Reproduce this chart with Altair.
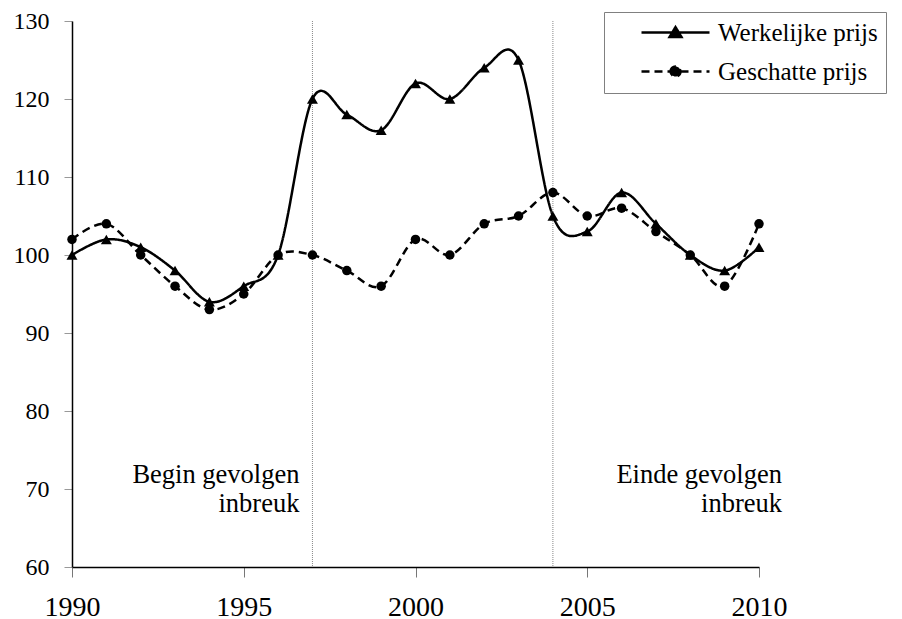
import altair as alt
import pandas as pd

years = list(range(1990, 2011))
werkelijke = [100, 102, 101, 98, 94, 96, 100, 120, 118, 116, 122, 120, 124, 125, 105, 103, 108, 104, 100, 98, 101]
geschatte = [102, 104, 100, 96, 93, 95, 100, 100, 98, 96, 102, 100, 104, 105, 108, 105, 106, 103, 100, 96, 104]
series_names = ["Werkelijke prijs", "Geschatte prijs"]
event_years = [1997, 2004]
note_texts = ["Begin gevolgen\ninbreuk", "Einde gevolgen\ninbreuk"]
note_years = [1997, 2010]
note_value = 70.8
x_ticks = [1990, 1995, 2000, 2005, 2010]
y_ticks = [60, 70, 80, 90, 100, 110, 120, 130]

rows = []
for name, vals in zip(series_names, [werkelijke, geschatte]):
    for yr, v in zip(years, vals):
        rows.append({"year": yr, "value": v, "series": name})
df = pd.DataFrame(rows)

FONT = "Liberation Serif"
xscale = alt.Scale(domain=[1990, 2010], nice=False, zero=False)
yscale = alt.Scale(domain=[60, 130], nice=False, zero=False)

xaxis = alt.Axis(values=x_ticks, format="d", title=None, tickSize=10, labelFontSize=28,
                 labelPadding=16, domainColor="black", domainWidth=1.5, tickColor="#777",
                 labelFont=FONT, labelColor="black", grid=False, labelFlush=False)
yaxis = alt.Axis(values=y_ticks, title=None, tickSize=8, labelFontSize=24, labelPadding=15,
                 domainColor="black", domainWidth=1.5, tickColor="#999", labelFont=FONT,
                 labelColor="black", grid=False, labelFlush=False)

tri_path = "M-3.4,0H3.4M-0.6,0.45L0,-0.55L0.6,0.45Z"
circ_path = "M-3.4,0H3.4M-0.5,0A0.5,0.5,0,1,1,0.5,0A0.5,0.5,0,1,1,-0.5,0Z"
shape_expr = "datum.value == 'Werkelijke prijs' ? '%s' : '%s'" % (tri_path, circ_path)

legend = alt.Legend(
    title=None, orient="none", legendX=532, legendY=-9,
    labelFont=FONT, labelFontSize=25, labelColor="black",
    strokeColor="#808080", fillColor="white", padding=8,
    symbolSize=400, symbolOffset=51, labelOffset=30, rowPadding=13,
    symbolStrokeWidth=2.4, symbolStrokeColor="black", symbolFillColor="black",
    symbolType=alt.ExprRef(shape_expr),
    labelExpr="datum.label + '\u2002'",
)

base = alt.Chart(df).encode(
    x=alt.X("year:Q", scale=xscale, axis=xaxis),
    y=alt.Y("value:Q", scale=yscale, axis=yaxis),
    detail="series:N",
)

lines = base.mark_line(interpolate="cardinal", strokeWidth=2.5, color="black").encode(
    strokeDash=alt.StrokeDash("series:N", scale=alt.Scale(domain=series_names, range=[[1, 0], [8, 5]]),
                              legend=legend)
)

pts_w = alt.Chart(df).transform_filter(alt.datum.series == series_names[0]).mark_point(
    filled=True, color="black", opacity=1, size=120, shape="triangle-up"
).encode(x=alt.X("year:Q", scale=xscale), y=alt.Y("value:Q", scale=yscale))

pts_g = alt.Chart(df).transform_filter(alt.datum.series == series_names[1]).mark_point(
    filled=True, color="black", opacity=1, size=90, shape="circle"
).encode(x=alt.X("year:Q", scale=xscale), y=alt.Y("value:Q", scale=yscale))

rules = alt.Chart(pd.DataFrame({"year": event_years})).mark_rule(
    color="#888", strokeDash=[1, 1], strokeWidth=1
).encode(x=alt.X("year:Q", scale=xscale))

notes_df = pd.DataFrame({"year": note_years, "value": [note_value] * 2, "text": note_texts})
t1 = alt.Chart(notes_df.iloc[[0]]).mark_text(
    align="right", baseline="alphabetic", lineBreak="\n", lineHeight=29,
    font=FONT, fontSize=26.5, color="black", dx=-13
).encode(x=alt.X("year:Q", scale=xscale), y=alt.Y("value:Q", scale=yscale), text="text:N")
t2 = alt.Chart(notes_df.iloc[[1]]).mark_text(
    align="right", baseline="alphabetic", lineBreak="\n", lineHeight=29,
    font=FONT, fontSize=26.5, color="black", dx=23
).encode(x=alt.X("year:Q", scale=xscale), y=alt.Y("value:Q", scale=yscale), text="text:N")

chart = alt.layer(rules, lines, pts_w, pts_g, t1, t2).properties(
    width=687, height=546,
    autosize=alt.AutoSizeParams(type="none"),
    padding={"left": 64, "top": 13, "right": 135, "bottom": 50},
).configure_view(stroke=None)

chart.save("out.html", embed_options={"renderer": "svg", "actions": False})
